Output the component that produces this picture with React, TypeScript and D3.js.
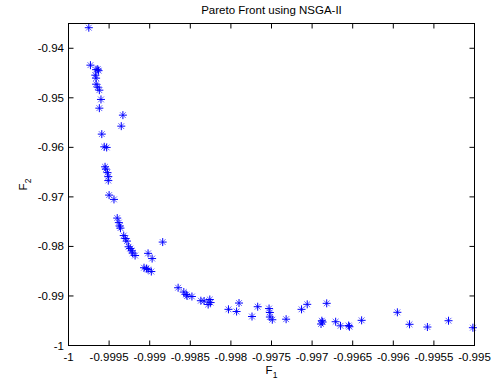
import React from "react";
import * as d3 from "d3";

const F1: number[] = [
  -0.99975, -0.99973, -0.99966, -0.99963, -0.99964, -0.99967, -0.99966, -0.99966, -0.99964, -0.99962,
  -0.9996, -0.99962, -0.99933, -0.99935, -0.99959, -0.99956, -0.99953, -0.99955, -0.99954, -0.99952,
  -0.99951, -0.99951, -0.9995, -0.99944, -0.9994, -0.99938, -0.99937, -0.99936, -0.99932, -0.9993,
  -0.99928, -0.99926, -0.99924, -0.99922, -0.99921, -0.99918, -0.99907, -0.99904, -0.99902, -0.99898,
  -0.99902, -0.99897, -0.99884, -0.99865, -0.99858, -0.99855, -0.99854, -0.99848, -0.99837, -0.99833,
  -0.99826, -0.99828, -0.99825, -0.99803, -0.99793, -0.9979, -0.99774, -0.99767, -0.99753, -0.99752,
  -0.99752, -0.99749, -0.99732, -0.99713, -0.99706, -0.99682, -0.99688, -0.99689, -0.99687, -0.99671,
  -0.99665, -0.99654, -0.99655, -0.99639, -0.99595, -0.9958, -0.99558, -0.99532, -0.99502,
];
const F2: number[] = [
  -0.93585, -0.94341, -0.94432, -0.94452, -0.94422, -0.94543, -0.94603, -0.94725, -0.94785, -0.94846,
  -0.95033, -0.95209, -0.9535, -0.95572, -0.95733, -0.95989, -0.96002, -0.96393, -0.96439, -0.9651,
  -0.96591, -0.96671, -0.96964, -0.97051, -0.97428, -0.97519, -0.97589, -0.9763, -0.97781, -0.97841,
  -0.97892, -0.98007, -0.98043, -0.98088, -0.98134, -0.98184, -0.9843, -0.98447, -0.98467, -0.98507,
  -0.9814, -0.98245, -0.97912, -0.98834, -0.98921, -0.98971, -0.99001, -0.99011, -0.99096, -0.99102,
  -0.99072, -0.99173, -0.99133, -0.9927, -0.99314, -0.99143, -0.99415, -0.99217, -0.99254, -0.99334,
  -0.99425, -0.9948, -0.99469, -0.9927, -0.99169, -0.99149, -0.995, -0.99566, -0.99526, -0.9952,
  -0.99603, -0.99621, -0.99597, -0.99492, -0.9933, -0.99572, -0.99627, -0.995, -0.99641,
];

const xTicks: number[] = [-1, -0.9995, -0.999, -0.9985, -0.998, -0.9975, -0.997, -0.9965, -0.996, -0.9955, -0.995];
const xTickLabels: string[] = ["-1", "-0.9995", "-0.999", "-0.9985", "-0.998", "-0.9975", "-0.997", "-0.9965", "-0.996", "-0.9955", "-0.995"];
const yTicks: number[] = [-1, -0.99, -0.98, -0.97, -0.96, -0.95, -0.94];
const yTickLabels: string[] = ["-1", "-0.99", "-0.98", "-0.97", "-0.96", "-0.95", "-0.94"];

const W = 493;
const H = 384;
const L = 68.5;
const R = 474.5;
const T = 23.5;
const B = 345.5;
const FONT = "Liberation Sans, Arial, Helvetica, sans-serif";
const FS = 11.5;

export default function App() {
  const x = d3.scaleLinear().domain([-1, -0.995]).range([L, R]);
  const y = d3.scaleLinear().domain([-1, -0.935]).range([B, T]);
  const tick = 5;
  const ms = 4;
  const md = 2.9;
  return (
    <svg width={W} height={H} style={{ position: "absolute", left: 0, top: 0, background: "#fff" }}>
      <rect x={0} y={0} width={W} height={H} fill="#fff" />
      <text x={(L + R) / 2} y={14} textAnchor="middle" fontFamily={FONT} fontSize={FS} fill="#000">
        Pareto Front using NSGA-II
      </text>
      <g>
        {F1.map((v, i) => {
          const cx = x(v);
          const cy = y(F2[i]);
          return (
            <g key={i} stroke="#0000ff" strokeWidth={1}>
              <line x1={cx - ms} y1={cy} x2={cx + ms} y2={cy} />
              <line x1={cx} y1={cy - ms} x2={cx} y2={cy + ms} />
              <line x1={cx - md} y1={cy - md} x2={cx + md} y2={cy + md} strokeOpacity={0.6} />
              <line x1={cx - md} y1={cy + md} x2={cx + md} y2={cy - md} strokeOpacity={0.6} />
            </g>
          );
        })}
      </g>
      <rect x={L} y={T} width={R - L} height={B - T} fill="none" stroke="#000" strokeWidth={1} />
      {xTicks.map((t, i) => (
        <g key={"x" + i}>
          <line x1={x(t)} y1={B} x2={x(t)} y2={B - tick} stroke="#000" />
          <line x1={x(t)} y1={T} x2={x(t)} y2={T + tick} stroke="#000" />
          <text x={x(t)} y={361} textAnchor="middle" fontFamily={FONT} fontSize={FS} fill="#000">
            {xTickLabels[i]}
          </text>
        </g>
      ))}
      {yTicks.map((t, i) => (
        <g key={"y" + i}>
          <line x1={L} y1={y(t)} x2={L + tick} y2={y(t)} stroke="#000" />
          <line x1={R} y1={y(t)} x2={R - tick} y2={y(t)} stroke="#000" />
          <text x={64} y={y(t) + 4} textAnchor="end" fontFamily={FONT} fontSize={FS} fill="#000">
            {yTickLabels[i]}
          </text>
        </g>
      ))}
      <text x={(L + R) / 2} y={374} textAnchor="middle" fontFamily={FONT} fontSize={FS} fill="#000">
        F<tspan fontSize={8.5} dy={4}>1</tspan>
      </text>
      <text transform={`translate(27,${(T + B) / 2}) rotate(-90)`} textAnchor="middle" fontFamily={FONT} fontSize={FS} fill="#000">
        F<tspan fontSize={8.5} dy={4}>2</tspan>
      </text>
    </svg>
  );
}
